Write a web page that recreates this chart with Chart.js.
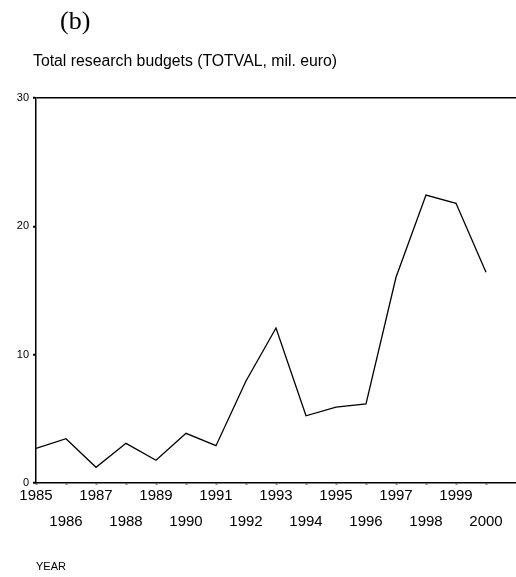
<!DOCTYPE html>
<html>
<head>
<meta charset="utf-8">
<script src="https://cdn.jsdelivr.net/npm/chart.js@4.4.1/dist/chart.umd.min.js"></script>
<style>
    body { margin: 0; background: #fff; }
    #wrap { position: relative; width: 516px; height: 577px; }
    #panel { position: absolute; left: 60px; top: 6px; font: 26px "Liberation Serif", serif; color: #000; }
    #title { position: absolute; left: 33px; top: 52px; font: 15.8px "Liberation Sans", sans-serif; color: #000; white-space: nowrap; }
    canvas { position: absolute; left: 0; top: 0; }
</style>
</head>
<body>
<div id="wrap">
    <canvas id="myChart" width="516" height="577"></canvas>
    <div id="panel">(b)</div>
    <div id="title">Total research budgets (TOTVAL, mil. euro)</div>
</div>
<script>
// values
const years = [1985, 1986, 1987, 1988, 1989, 1990, 1991, 1992, 1993, 1994, 1995, 1996, 1997, 1998, 1999, 2000];
const totval = [2.70, 3.45, 1.22, 3.09, 1.77, 3.87, 2.91, 7.95, 12.08, 5.24, 5.92, 6.16, 16.03, 22.44, 21.79, 16.42];
const yTicks = [0, 10, 20, 30];
const labelFont = 'Liberation Sans';

//points for the line, built from the arrays above//
const points = [];
for (let i = 0; i < years.length; i++) {
    points.push({ x: years[i], y: totval[i] });
}

const ctx = document.getElementById('myChart').getContext('2d');

const myChart = new Chart(ctx, {
    type: 'line',
    data: {
        datasets: [{
            label: 'TOTVAL',
            data: points,
            borderColor: '#000',
            borderWidth: 1.3,
            pointRadius: 0,
            tension: 0,
            fill: false
        }]
    },
    options: {
        responsive: false,
        animation: false,
        layout: {
            padding: { top: 98, left: 0, right: -2, bottom: 0 }
        },
        plugins: {
            legend: { display: false },
            tooltip: { enabled: false }
        },
        scales: {
            x: {
                type: 'linear',
                min: years[0],
                max: years[years.length - 1] + 1,
                afterFit: function (scale) { scale.height = 94; },
                border: { color: '#000', width: 1.5 },
                grid: {
                    drawOnChartArea: false,
                    drawTicks: true,
                    tickLength: 2,
                    tickWidth: 2,
                    tickColor: '#888'
                },
                ticks: {
                    stepSize: 1,
                    autoSkip: false,
                    maxRotation: 0,
                    padding: -2,
                    color: '#000',
                    font: { family: labelFont, size: 15, lineHeight: '26px' },
                    // odd years on the first row, even years on the second
                    callback: function (v) {
                        if (!years.includes(v)) return null;
                        return v % 2 ? [String(v)] : ['', String(v)];
                    }
                },
                title: {
                    display: true,
                    text: 'YEAR',
                    align: 'start',
                    color: '#000',
                    font: { family: labelFont, size: 11, lineHeight: 1.2 },
                    padding: { top: 0, bottom: 3 }
                }
            },
            y: {
                min: yTicks[0],
                max: yTicks[yTicks.length - 1],
                afterFit: function (scale) { scale.width = 36; },
                border: { color: '#000', width: 1.5 },
                grid: {
                    // only the top line of the frame
                    color: function (c) {
                        return c.tick && c.tick.value === yTicks[yTicks.length - 1] ? '#000' : 'rgba(0,0,0,0)';
                    },
                    lineWidth: 1.5,
                    tickColor: '#000',
                    tickLength: 3,
                    tickWidth: 2
                },
                ticks: {
                    stepSize: 10,
                    padding: 4,
                    color: '#000',
                    font: { family: labelFont, size: 11 }
                }
            }
        }
    }
});
</script>
</body>
</html>
